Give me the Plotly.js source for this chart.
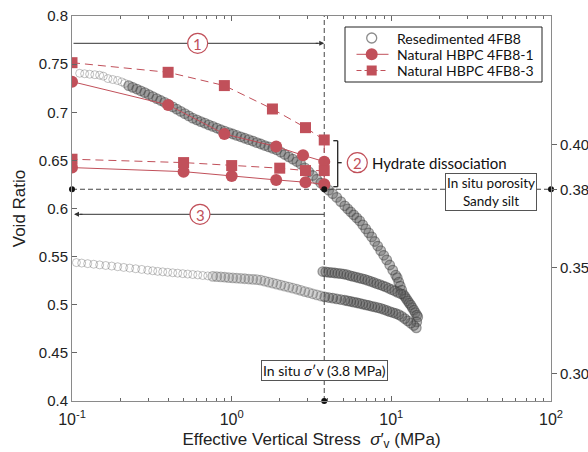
<!DOCTYPE html>
<html><head><meta charset="utf-8">
<script src="https://cdn.plot.ly/plotly-3.0.1.min.js"></script>
<style>html,body{margin:0;padding:0;background:#fff}#chart{width:588px;height:452px}</style>
</head><body><div id="chart"></div>
<script>
// ---------- data ----------
const resedLoadX = [0.1117,0.120,0.129,0.139,0.149,0.157,0.168,0.180,0.193,0.205,0.214,
 0.2266,0.2400,0.2543,0.2694,0.2854,0.3023,0.3203,0.3393,0.3595,0.3808,0.4035,0.4274,0.4529,0.4798,0.5083,0.5385,0.5705,0.6044,0.6403,0.6784,
 0.7187,0.7614,0.8066,0.8545,0.9053,0.9590,1.016,1.076,1.140,1.208,1.280,1.356,1.437,1.522,1.612,1.708,1.810,1.917,2.031,2.151,
 2.279,2.414,2.558,2.710,2.871,3.041,3.221,3.412,3.614,3.828,4.055,4.296,4.551,4.821,5.107,
 5.333,5.569,5.815,6.072,6.340,6.621,6.913,7.219,7.538,7.871,8.219,8.582,8.961,9.358,9.771,10.20,10.65,
 10.89,11.13,11.37,11.62,11.88,12.14,12.40,12.67,12.95,13.23,13.52,13.82,14.12,14.43,14.64,14.43,14.33];
const resedLoadE = [0.7405,0.7400,0.7395,0.7390,0.7385,0.7375,0.7350,0.7340,0.7330,0.7315,0.7300,
 0.7276,0.7259,0.7241,0.7223,0.7204,0.7184,0.7163,0.7142,0.7122,0.7102,0.7080,0.7056,0.7033,0.7009,0.6985,0.6962,0.6938,0.6921,0.6903,0.6887,
 0.6869,0.6853,0.6836,0.6818,0.6803,0.6788,0.6774,0.6759,0.6745,0.6730,0.6715,0.6701,0.6685,0.6670,0.6654,0.6640,0.6624,0.6609,0.6585,0.6561,
 0.6537,0.6513,0.6488,0.6461,0.6422,0.6382,0.6343,0.6304,0.6265,0.6225,0.6190,0.6153,0.6115,0.6072,0.6028,
 0.5996,0.5965,0.5934,0.5902,0.5871,0.5830,0.5788,0.5747,0.5705,0.5657,0.5610,0.5562,0.5514,0.5466,0.5413,0.5360,0.5307,
 0.5281,0.5235,0.5193,0.5152,0.5108,0.5087,0.5063,0.5040,0.5017,0.4997,0.4971,0.4944,0.4918,0.4892,0.4874,0.4822,0.4760];
const resedUnloadX = [13.82,13.23,12.67,12.14,11.62,11.13,10.65,10.20,9.771,9.358,8.961,8.582,8.219,7.871,7.538,7.219,
 6.913,6.621,6.340,6.072,5.815,5.569,5.333,5.107,4.821,4.551,4.296,4.055,3.828,3.614,3.412,3.221,3.041,2.871,
 2.710,2.558,2.414,2.279,2.151,2.031,1.917,1.810,1.708,1.612,1.522,1.437,1.356,1.280,1.208,1.140,1.076,1.016,0.9590,0.9053,
 0.8545,0.8066,0.7614,0.7085,0.6591,0.6133,0.5705,0.5307,0.4938,0.4594,0.4274,0.3977,0.3700,
 0.3443,0.3203,0.2980,0.2733,0.2506,0.2298,0.2108,0.1933,0.1773,0.1626,0.1491,0.1368,0.1254,0.1150,0.1066];
const resedUnloadE = [0.4784,0.4809,0.4833,0.4856,0.4879,0.4898,0.4909,0.4919,0.4929,0.4940,0.4951,0.4962,0.4970,0.4977,0.4984,0.4992,
 0.4999,0.5007,0.5015,0.5021,0.5027,0.5034,0.5040,0.5047,0.5054,0.5061,0.5069,0.5075,0.5082,0.5091,0.5103,0.5114,0.5126,0.5137,
 0.5150,0.5161,0.5172,0.5183,0.5193,0.5204,0.5214,0.5224,0.5235,0.5245,0.5255,0.5261,0.5264,0.5267,0.5270,0.5273,0.5276,0.5279,0.5282,0.5286,
 0.5289,0.5292,0.5295,0.5300,0.5304,0.5310,0.5314,0.5319,0.5323,0.5328,0.5332,0.5337,0.5342,
 0.5347,0.5353,0.5359,0.5367,0.5374,0.5381,0.5388,0.5395,0.5402,0.5408,0.5414,0.5421,0.5427,0.5433,0.5438];
const resedReloadX = [3.722,3.887,4.058,4.238,4.425,4.621,4.825,5.038,5.261,5.494,5.736,5.990,6.255,6.531,6.820,7.121,7.436,7.765,8.108,8.466,8.841,9.231,9.639,10.07,10.51,10.97,11.46];
const resedReloadE = [0.5345,0.5342,0.5337,0.5334,0.5330,0.5327,0.5323,0.5319,0.5312,0.5303,0.5295,0.5288,0.5279,0.5271,0.5264,0.5253,0.5242,0.5231,0.5219,0.5209,0.5197,0.5186,0.5171,0.5157,0.5143,0.5129,0.5114];

const hbpc1X = [0.1, 0.4, 0.9, 1.9, 2.8, 3.8, 3.8, 2.9, 1.9, 1.0, 0.5, 0.1];
const hbpc1E = [0.7318, 0.7076, 0.6775, 0.6643, 0.6553, 0.6487, 0.6252, 0.6273, 0.6297, 0.6338, 0.6383, 0.6425];
const hbpc3X = [0.1, 0.4, 0.9, 1.8, 2.9, 3.8, 3.8, 2.9, 2.0, 1.0, 0.5, 0.1];
const hbpc3E = [0.7515, 0.7415, 0.7277, 0.7034, 0.6840, 0.6712, 0.6394, 0.6394, 0.6419, 0.6446, 0.6477, 0.6512];

const refPointX = [0.1, 3.8, 100, 3.8];
const refPointE = [0.62, 0.62, 0.62, 0.4];

const seriesNames = ['Resedimented 4FB8', 'Natural HBPC 4FB8-1', 'Natural HBPC 4FB8-3'];
const xTickVals = [0.1, 1, 10, 100];
const xTickText = ['10<sup>-1</sup>', '10<sup>0</sup>', '10<sup>1</sup>', '10<sup>2</sup>'];
const xMinorVals = [0.2,0.3,0.4,0.5,0.6,0.7,0.8,0.9,2,3,4,5,6,7,8,9,20,30,40,50,60,70,80,90];
const porosityTickVals = [0.6667, 0.62, 0.5385, 0.4286];
const porosityTickText = ['0.40', '0.38', '0.35', '0.30'];
const inSituStress = 3.8;
const inSituVoid = 0.62;

// ---------- style ----------
const RED = '#C1505A';
const AX = '#8a8a8a';
const SANS = 'Liberation Sans, Arial, sans-serif';
const MY = 'Lato, Open Sans, sans-serif';

const L = 72, R = 551, T = 16, B = 401;
const px = v => (v - L) / (R - L);
const py = v => (B - v) / (B - T);
const xp = v => (Math.log10(v) + 1) / 3;

function resedTrace(xs, es, denseFrom, darkFrom){
  const lvl = xs.map(v => v >= darkFrom ? 2 : (v >= denseFrom ? 1 : 0));
  return {x:xs, y:es, type:'scatter', mode:'markers', name:seriesNames[0], showlegend:false,
    marker:{symbol:lvl.map(l => l ? 'circle' : 'circle-open'), size:lvl.map(l => l ? 9.5 : 8),
      color:lvl.map(l => l === 2 ? 'rgba(95,95,95,0.55)' : (l === 1 ? 'rgba(140,140,140,0.3)' : 'rgba(120,120,120,0.65)')),
      line:{width:lvl.map(l => l ? 1.3 : 1),
            color:lvl.map(l => l === 2 ? 'rgba(60,60,60,0.75)' : 'rgba(90,90,90,0.6)')}}};
}

const traces = [
  resedTrace(resedLoadX, resedLoadE, 0.215, 0.215),
  resedTrace(resedUnloadX, resedUnloadE, 0.72, 3.7),
  resedTrace(resedReloadX, resedReloadE, 0, 0),
  {x:hbpc1X, y:hbpc1E, name:seriesNames[1], type:'scatter', mode:'lines+markers', showlegend:false,
   line:{color:RED, width:1}, marker:{symbol:'circle', size:12, color:RED}},
  {x:hbpc3X, y:hbpc3E, name:seriesNames[2], type:'scatter', mode:'lines+markers', showlegend:false,
   line:{color:RED, width:1, dash:'8px,5px'}, marker:{symbol:'square', size:11, color:RED}},
  {x:refPointX, y:refPointE, type:'scatter', mode:'markers', yaxis:'y2', showlegend:false,
   cliponaxis:false, marker:{size:6, color:'#111'}}
];

function circleShape(cx, cy, r, fill, col, w){
  return {type:'circle', xref:'paper', yref:'paper', layer:'above',
    x0:px(cx-r), x1:px(cx+r), y0:py(cy+r), y1:py(cy-r),
    fillcolor:fill, line:{color:col, width:w}};
}
function seg(x0,y0,x1,y1,color,w,dash){
  return {type:'line', xref:'paper', yref:'paper', layer:'above', x0:px(x0), x1:px(x1), y0:py(y0), y1:py(y1),
    line:{color:color||'#333', width:w||1, dash:dash||'solid'}};
}
const vx = L + xp(inSituStress)*(R-L);

// legend geometry
const legRows = [38, 54.3, 70.5];
const shapes = [
  {type:'line', xref:'x', yref:'paper', x0:inSituStress, x1:inSituStress, y0:0, y1:1, layer:'below',
   line:{color:'#444', width:1, dash:'5px,3px'}},
  {type:'line', xref:'paper', yref:'y', x0:0, x1:1, y0:inSituVoid, y1:inSituVoid, layer:'below',
   line:{color:'#444', width:1, dash:'5px,3px'}},
  // arrow 1
  seg(73.5, 43.3, 187.7, 43.3), seg(207.7, 43.3, vx-6, 43.3),
  circleShape(197.7, 43.3, 10, '#fff', RED, 1.2),
  // arrow 3
  seg(vx, 214.3, 210, 214.3), seg(190, 214.3, 80, 214.3),
  circleShape(200, 214.3, 10, '#fff', RED, 1.2),
  // bracket
  seg(333.3, 140.7, 337.7, 140.7, '#222', 1.3), seg(337.7, 140.7, 337.7, 186.7, '#222', 1.3),
  seg(333.3, 186.7, 337.7, 186.7, '#222', 1.3), seg(337.7, 162.7, 341.7, 162.7, '#222', 1.3),
  circleShape(357.3, 162.7, 10, '#fff', RED, 1.2),
  // legend
  {type:'rect', xref:'paper', yref:'paper', layer:'above', x0:px(345), x1:px(542), y0:py(82), y1:py(27),
   fillcolor:'#fff', line:{color:'#222', width:1}},
  circleShape(371.7, legRows[0], 5, 'rgba(0,0,0,0)', '#8c8c8c', 1.3),
  seg(356.5, legRows[1], 388.5, legRows[1], RED, 1),
  circleShape(371.7, legRows[1], 6, RED, RED, 0),
  seg(356.5, legRows[2], 388.5, legRows[2], RED, 1, '5px,3px'),
  {type:'rect', xref:'paper', yref:'paper', layer:'above', x0:px(366.7), x1:px(376.7),
   y0:py(legRows[2]+5), y1:py(legRows[2]-5), fillcolor:RED, line:{width:0}}
];

const C = {xanchor:'center', yanchor:'middle', showarrow:false, xref:'paper', yref:'paper'};
const annotations = [
  {xref:'paper', yref:'paper', x:px(vx), y:py(43.3), ax:-10, ay:0, text:'', showarrow:true,
   arrowhead:2, arrowsize:1, arrowwidth:1, arrowcolor:'#333', standoff:0},
  {xref:'paper', yref:'paper', x:px(74), y:py(214.3), ax:10, ay:0, text:'', showarrow:true,
   arrowhead:2, arrowsize:1, arrowwidth:1, arrowcolor:'#333', standoff:0},
  Object.assign({x:px(197.7), y:py(43.8), text:'1', font:{family:MY, size:15, color:RED}}, C),
  Object.assign({x:px(200), y:py(214.8), text:'3', font:{family:MY, size:15, color:RED}}, C),
  Object.assign({x:px(357.3), y:py(163.2), text:'2', font:{family:MY, size:15, color:RED}}, C),
  Object.assign({x:px(370), y:py(162.7), text:'Hydrate dissociation', font:{family:MY, size:15, color:'#111'}}, C, {xanchor:'left'}),
  Object.assign({x:px(490.8), y:py(191.7), text:'In situ porosity<br>Sandy silt',
   bgcolor:'#fff', bordercolor:'#555', borderwidth:1, borderpad:1, font:{family:MY, size:13.5, color:'#111'}}, C),
  Object.assign({x:px(324.6), y:py(370), text:'In situ <i>σ</i>′v (3.8 MPa)',
   bgcolor:'#fff', bordercolor:'#555', borderwidth:1, borderpad:1, font:{family:MY, size:14, color:'#111'}}, C),
  Object.assign({x:px(395), y:py(legRows[0]), text:seriesNames[0], font:{family:MY, size:14, color:'#111'}}, C, {xanchor:'left'}),
  Object.assign({x:px(395), y:py(legRows[1]), text:seriesNames[1], font:{family:MY, size:14, color:'#111'}}, C, {xanchor:'left'}),
  Object.assign({x:px(395), y:py(legRows[2]), text:seriesNames[2], font:{family:MY, size:14, color:'#111'}}, C, {xanchor:'left'})
];

const layout = {
  width:588, height:452,
  margin:{l:L, r:588-R, t:T, b:452-B},
  paper_bgcolor:'#fff', plot_bgcolor:'#fff',
  font:{family:SANS, color:'#222'},
  showlegend:false,
  xaxis:{type:'log', range:[-1,2], tickmode:'array', tickvals:xTickVals, ticktext:xTickText,
    ticks:'inside', ticklen:5, tickcolor:'#666', showline:true, linecolor:AX, linewidth:1,
    mirror:'ticks', showgrid:false, zeroline:false, ticklabelstandoff:4,
    tickfont:{family:SANS, size:16, color:'#222'},
    minor:{tickmode:'array', tickvals:xMinorVals, ticks:'inside', ticklen:3, tickcolor:'#666', showgrid:false},
    title:{text:'Effective Vertical Stress  <i>σ</i>′<sub>v</sub> (MPa)', font:{family:SANS, size:17, color:'#222'}, standoff:5}},
  yaxis:{range:[0.4,0.8], tick0:0.4, dtick:0.05, ticks:'inside', ticklen:5, tickcolor:'#666',
    showline:true, linecolor:AX, linewidth:1, showgrid:false, zeroline:false,
    tickfont:{family:SANS, size:15, color:'#222'},
    title:{text:'Void Ratio', font:{family:SANS, size:17, color:'#222'}, standoff:8}},
  yaxis2:{overlaying:'y', side:'right', range:[0.4,0.8], tickmode:'array',
    tickvals:porosityTickVals, ticktext:porosityTickText, ticks:'outside', ticklen:5, tickcolor:'#666',
    showline:true, linecolor:AX, linewidth:1, showgrid:false, zeroline:false,
    tickfont:{family:SANS, size:15, color:'#222'}},
  shapes:shapes,
  annotations:annotations
};

Plotly.newPlot('chart', traces, layout, {displayModeBar:false, staticPlot:true});
</script>
</body></html>
